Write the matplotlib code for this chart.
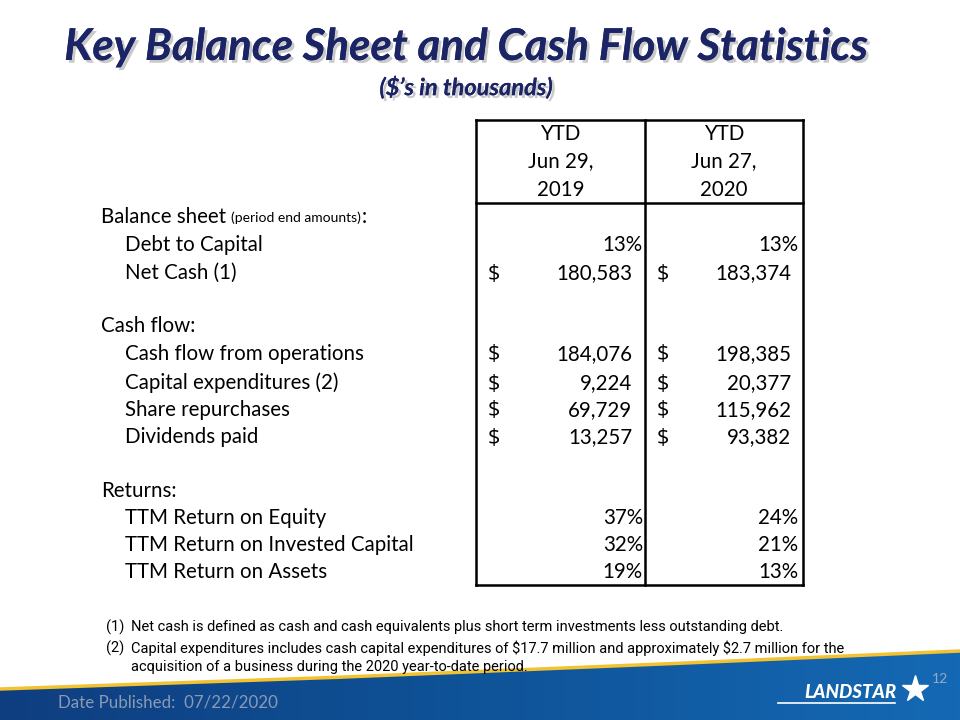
import numpy as np
import matplotlib
matplotlib.use("Agg")
import matplotlib.pyplot as plt
from matplotlib.patches import Polygon
from matplotlib.lines import Line2D
from matplotlib.colors import LinearSegmentedColormap
import matplotlib.patheffects as pe

# ---------------- data ----------------
title = "Key Balance Sheet and Cash Flow Statistics"
subtitle = "(\\$\u2019s in thousands)"
col_headers = [["YTD", "Jun 29,", "2019"], ["YTD", "Jun 27,", "2020"]]
row_labels = ["Balance sheet", "Debt to Capital", "Net Cash (1)", "",
              "Cash flow:", "Cash flow from operations", "Capital expenditures (2)",
              "Share repurchases", "Dividends paid", "",
              "Returns:", "TTM Return on Equity", "TTM Return on Invested Capital",
              "TTM Return on Assets"]
row_indent = [0, 1, 1, 0, 0, 1, 1, 1, 1, 0, 0, 1, 1, 1]
row_kind = [None, "pct", "usd", None, None, "usd", "usd", "usd", "usd", None,
            None, "pct", "pct", "pct"]
values_2019 = [None, 13, 180583, None, None, 184076, 9224, 69729, 13257, None,
               None, 37, 32, 19]
values_2020 = [None, 13, 183374, None, None, 198385, 20377, 115962, 93382, None,
               None, 24, 21, 13]
footnotes = [("(1)", "Net cash is defined as cash and cash equivalents plus short term investments less outstanding debt."),
             ("(2)", "Capital expenditures includes cash capital expenditures of \\$17.7 million and approximately \\$2.7 million for the"),
             ("", "acquisition of a business during the 2020 year-to-date period.")]
date_text = "Date Published:  07/22/2020"
page_num = "12"

# ---------------- figure ----------------
fig = plt.figure(figsize=(9.6, 7.2), dpi=100)
ax = fig.add_axes([0, 0, 1, 1])
ax.set_xlim(0, 960)
ax.set_ylim(720, 0)
ax.axis("off")

FONT = ["Lato", "DejaVu Sans"]
DOLLAR_FONT = ["Open Sans", "DejaVu Sans"]
NARROW = ["Liberation Sans Narrow", "Roboto", "DejaVu Sans"]
navy = "#1b2465"
shadow = [pe.withSimplePatchShadow(offset=(2, -2), shadow_rgbFace="#888888", alpha=0.45), pe.Normal()]

ax.text(466, 47, title, ha="center", va="center", fontsize=31.6, fontweight="bold",
        fontstyle="italic", color=navy, family=FONT, path_effects=shadow)
ax.text(466, 87, subtitle, ha="center", va="center", fontsize=17, fontweight="bold",
        fontstyle="italic", color=navy, family=FONT, path_effects=shadow)

# table borders
lw = 1.8
xl, xm, xr = 476, 645, 803
yt, yh, yb = 120, 203, 585
for x in (xl, xm, xr):
    ax.add_line(Line2D([x, x], [yt, yb], color="black", lw=lw))
for y in (yt, yh, yb):
    ax.add_line(Line2D([xl, xr], [y, y], color="black", lw=lw))

FS = 14.8
hdr_y = [134, 161, 190]
for ci, xc in enumerate([(xl + xm) / 2, (xm + xr) / 2]):
    for k, t in enumerate(col_headers[ci]):
        ax.text(xc, hdr_y[k], t, ha="center", va="center", fontsize=FS, family=FONT, color="black")

row_y = [217, 245, 273, 300, 326, 354, 383, 410, 437, 464, 491, 518, 545, 572]
fig.canvas.draw()
for i, lab in enumerate(row_labels):
    y = row_y[i]
    x = 125 if row_indent[i] else 101
    if lab == "Balance sheet":
        t = ax.text(x, y, lab, ha="left", va="center", fontsize=FS, family=FONT)
        bb = t.get_window_extent(renderer=fig.canvas.get_renderer())
        t2 = ax.text(bb.x1 + 5, y + 1, "(period end amounts)", ha="left", va="center",
                     fontsize=10, family=FONT)
        bb2 = t2.get_window_extent(renderer=fig.canvas.get_renderer())
        ax.text(bb2.x1 + 1, y, ":", ha="left", va="center", fontsize=FS, family=FONT)
    elif lab:
        ax.text(x, y, lab, ha="left", va="center", fontsize=FS, family=FONT)
    for vals, xd, xv_usd, xv_pct in [(values_2019, 488, 632, 643), (values_2020, 657, 791, 798)]:
        v = vals[i]
        if v is None:
            continue
        if row_kind[i] == "pct":
            ax.text(xv_pct, y, f"{v}%", ha="right", va="center", fontsize=FS, family=FONT)
        else:
            ax.text(xd, y + 1, "$", ha="left", va="center", fontsize=15.5, family=DOLLAR_FONT)
            ax.text(xv_usd, y, f"{v:,}", ha="right", va="center", fontsize=FS, family=FONT)

# footnotes
fn_y = [627, 648, 667]
for (num, txt), y in zip(footnotes, fn_y):
    if num:
        ax.text(106, y, num, ha="left", va="center", fontsize=10.5, family=NARROW)
    ax.text(131, y, txt, ha="left", va="center", fontsize=10.5, family=NARROW)

# footer band
bx = np.linspace(0, 960, 200)
by = np.interp(bx, [0, 320, 640, 960], [689, 678, 665, 651])
poly = Polygon(np.column_stack([np.r_[bx, 960, 0], np.r_[by, 720, 720]]), closed=True,
               facecolor="none", edgecolor="none")
ax.add_patch(poly)
grad = np.linspace(0, 1, 256)[None, :]
cmap = LinearSegmentedColormap.from_list("band", ["#0e3e80", "#0f5398", "#1569b4"])
im = ax.imshow(grad, extent=[0, 960, 720, 640], cmap=cmap, aspect="auto", zorder=1)
im.set_clip_path(poly)
ax.plot(bx, by, color="#f2c230", lw=2.5, zorder=2)
ax.set_xlim(0, 960)
ax.set_ylim(720, 0)

ax.text(58, 703, date_text, ha="left", va="center", fontsize=12.2, color="#8a9ab5", family=FONT, zorder=3)
ax.text(940, 679, page_num, ha="center", va="center", fontsize=10, color="#9aa8bf", family=FONT, zorder=3)
ax.text(850, 692, "LANDSTAR", ha="center", va="center", fontsize=13.5, fontweight="black",
        fontstyle="italic", color="white", family=FONT, zorder=3)
ax.add_line(Line2D([778, 895], [703, 703], color="white", lw=1.2, zorder=3))
ax.plot([915], [689], marker="*", markersize=20, color="white", zorder=3)

fig.savefig("out.png", dpi=100)
